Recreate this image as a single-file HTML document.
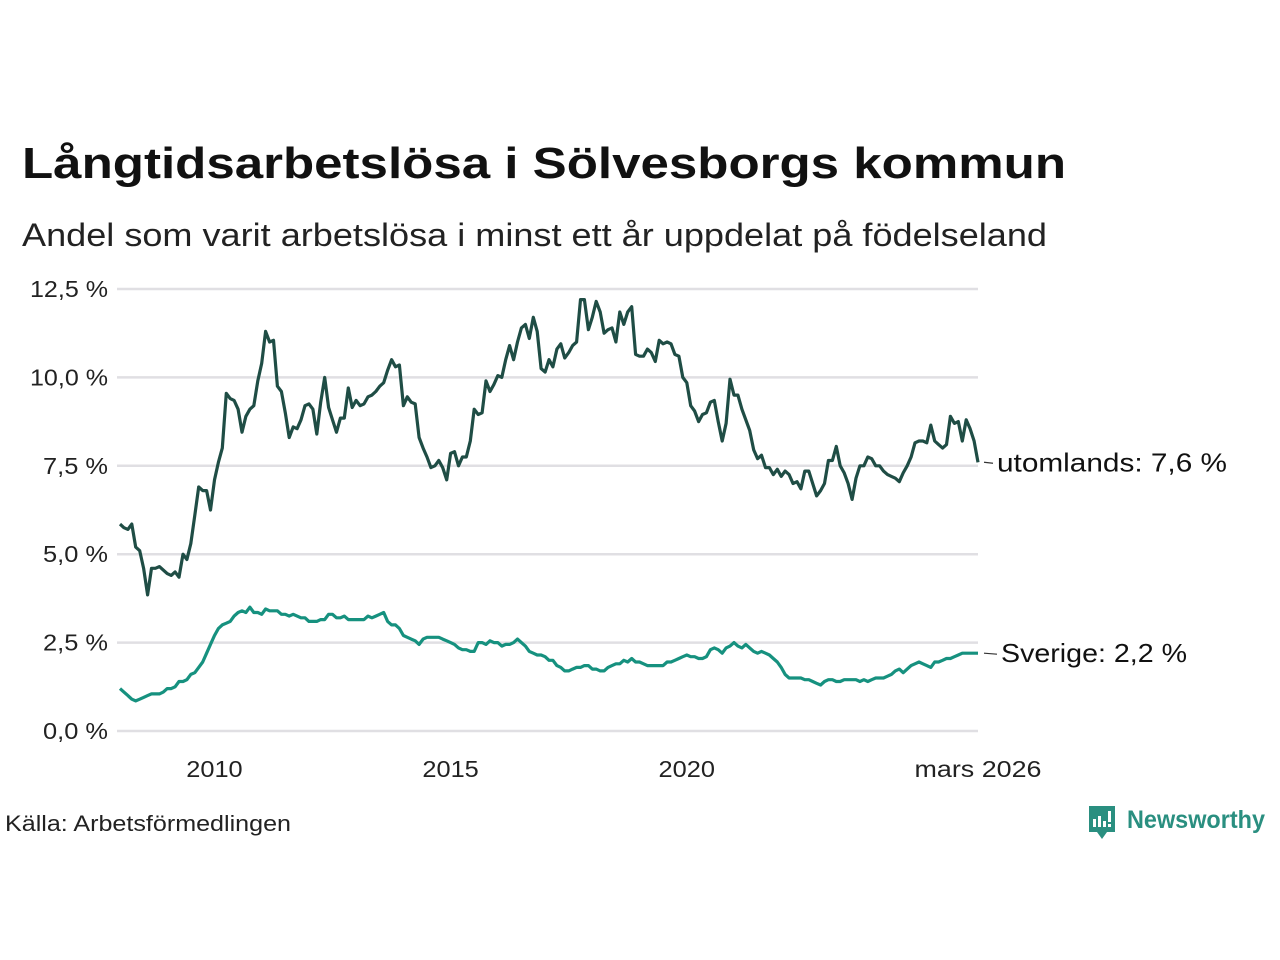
<!DOCTYPE html>
<html><head><meta charset="utf-8"><style>
html,body{margin:0;padding:0;background:#fff;width:1280px;height:960px;overflow:hidden}
svg text{font-family:"Liberation Sans",sans-serif}
</style></head><body>
<svg id="chart" width="1280" height="960" viewBox="0 0 1280 960" xmlns="http://www.w3.org/2000/svg">
<text x="22" y="178" font-size="44" font-weight="bold" fill="#111" textLength="1044" lengthAdjust="spacingAndGlyphs">Långtidsarbetslösa i Sölvesborgs kommun</text>
<text x="22" y="246" font-size="32" fill="#222" textLength="1025" lengthAdjust="spacingAndGlyphs">Andel som varit arbetslösa i minst ett år uppdelat på födelseland</text>
<g id="grid"></g>
<g id="yticks"></g>
<g id="xticks"></g>
<g id="lines"></g>
<text x="5" y="831" font-size="22" fill="#222" textLength="286" lengthAdjust="spacingAndGlyphs">Källa: Arbetsförmedlingen</text>
<g>
<path d="M1089 806 h26 v26 h-8 l-5 7 l-5 -7 h-8 z" fill="#2a8f80"/>
<rect x="1093" y="819" width="3" height="8" fill="#fff"/><rect x="1098" y="816" width="3" height="11" fill="#fff"/><rect x="1103" y="821" width="3" height="6" fill="#fff"/><rect x="1108" y="811" width="3" height="11" fill="#fff"/><rect x="1108" y="824" width="3" height="3" fill="#fff"/>
<text x="1127" y="828" font-size="25" font-weight="bold" fill="#2a8f80" textLength="138" lengthAdjust="spacingAndGlyphs">Newsworthy</text>
</g>
</svg>
<script>
const yTicks=[0,2.5,5,7.5,10,12.5];
const yTickLabels=["0,0 %","2,5 %","5,0 %","7,5 %","10,0 %","12,5 %"];
const xTickYears=[2010,2015,2020,2026.1667];
const xTickLabels=["2010","2015","2020","mars 2026"];
const startYear=2008;
const utomlands=[5.85,5.75,5.7,5.85,5.2,5.1,4.6,3.85,4.6,4.6,4.65,4.55,
4.45,4.4,4.5,4.35,5.0,4.85,5.3,6.1,6.9,6.8,6.8,6.25,
7.1,7.6,8.0,9.55,9.4,9.35,9.1,8.45,8.9,9.1,9.2,9.9,
10.4,11.3,11.0,11.05,9.75,9.6,9.0,8.3,8.6,8.55,8.8,9.2,
9.25,9.1,8.4,9.3,10.0,9.15,8.8,8.45,8.85,8.85,9.7,9.15,
9.35,9.2,9.25,9.45,9.5,9.6,9.75,9.85,10.2,10.5,10.3,10.35,
9.2,9.45,9.3,9.25,8.3,8.0,7.75,7.45,7.5,7.65,7.45,7.1,
7.85,7.9,7.5,7.75,7.75,8.2,9.1,8.95,9.0,9.9,9.6,9.8,
10.05,10.0,10.5,10.9,10.5,11.0,11.4,11.5,11.1,11.7,11.3,10.25,
10.15,10.5,10.3,10.8,10.95,10.55,10.7,10.9,11.0,12.2,12.2,11.35,
11.7,12.15,11.85,11.25,11.35,11.4,11.0,11.85,11.5,11.85,12.0,10.65,
10.6,10.6,10.8,10.7,10.45,11.05,10.95,11.0,10.95,10.65,10.6,10.0,
9.85,9.2,9.05,8.75,8.95,9.0,9.3,9.35,8.75,8.2,8.7,9.95,
9.5,9.5,9.1,8.8,8.5,7.95,7.7,7.8,7.45,7.45,7.25,7.4,
7.2,7.35,7.25,7.0,7.05,6.85,7.35,7.35,7.0,6.65,6.8,7.0,
7.65,7.65,8.05,7.5,7.3,7.0,6.55,7.15,7.5,7.5,7.75,7.7,
7.5,7.5,7.35,7.25,7.2,7.15,7.05,7.3,7.5,7.75,8.15,8.2,
8.2,8.15,8.65,8.2,8.1,8.0,8.1,8.9,8.7,8.75,8.2,8.8,
8.55,8.2,7.6];
const sverige=[1.2,1.1,1.0,0.9,0.85,0.9,0.95,1.0,1.05,1.05,1.05,1.1,
1.2,1.2,1.25,1.4,1.4,1.45,1.6,1.65,1.8,1.95,2.2,2.45,
2.7,2.9,3.0,3.05,3.1,3.25,3.35,3.4,3.35,3.5,3.35,3.35,
3.3,3.45,3.4,3.4,3.4,3.3,3.3,3.25,3.3,3.25,3.2,3.2,
3.1,3.1,3.1,3.15,3.15,3.3,3.3,3.2,3.2,3.25,3.15,3.15,
3.15,3.15,3.15,3.25,3.2,3.25,3.3,3.35,3.1,3.0,3.0,2.9,
2.7,2.65,2.6,2.55,2.45,2.6,2.65,2.65,2.65,2.65,2.6,2.55,
2.5,2.45,2.35,2.3,2.3,2.25,2.25,2.5,2.5,2.45,2.55,2.5,
2.5,2.4,2.45,2.45,2.5,2.6,2.5,2.4,2.25,2.2,2.15,2.15,
2.1,2.0,2.0,1.85,1.8,1.7,1.7,1.75,1.8,1.8,1.85,1.85,
1.75,1.75,1.7,1.7,1.8,1.85,1.9,1.9,2.0,1.95,2.05,1.95,
1.95,1.9,1.85,1.85,1.85,1.85,1.85,1.95,1.95,2.0,2.05,2.1,
2.15,2.1,2.1,2.05,2.05,2.1,2.3,2.35,2.3,2.2,2.35,2.4,
2.5,2.4,2.35,2.45,2.35,2.25,2.2,2.25,2.2,2.15,2.05,1.95,
1.8,1.6,1.5,1.5,1.5,1.5,1.45,1.45,1.4,1.35,1.3,1.4,
1.45,1.45,1.4,1.4,1.45,1.45,1.45,1.45,1.4,1.45,1.4,1.45,
1.5,1.5,1.5,1.55,1.6,1.7,1.75,1.65,1.75,1.85,1.9,1.95,
1.9,1.85,1.8,1.95,1.95,2.0,2.05,2.05,2.1,2.15,2.2,2.2,
2.2,2.2,2.2];
const NS="http://www.w3.org/2000/svg";
const X0=120,X1=978,Y0=731,Y1=289;
const lastYear=startYear+(utomlands.length-1)/12;
function xs(yr){return X0+(yr-startYear)/(lastYear-startYear)*(X1-X0);}
function ys(v){return Y0-(v/12.5)*(Y0-Y1);}
function mk(tag,attrs,parent){const e=document.createElementNS(NS,tag);for(const k in attrs)e.setAttribute(k,attrs[k]);parent.appendChild(e);return e;}
const grid=document.getElementById('grid'),yt=document.getElementById('yticks'),xt=document.getElementById('xticks'),lines=document.getElementById('lines');
yTicks.forEach((v,i)=>{
 const l=mk('line',{x1:117,x2:978,y1:ys(v),y2:ys(v),stroke:'#e0dfe3','stroke-width':2.5},grid);
 
 
 const t=mk('text',{x:108,y:ys(v)+8,'text-anchor':'end','font-size':23,fill:'#222'},yt);
 t.textContent=yTickLabels[i];
 t.setAttribute('textLength',yTickLabels[i].length*13);
 t.setAttribute('lengthAdjust','spacingAndGlyphs');
 
 
});
xTickYears.forEach((yr,i)=>{
 const t=mk('text',{x:xs(yr),y:777,'text-anchor':'middle','font-size':23,fill:'#222'},xt);
 t.textContent=xTickLabels[i];
 t.setAttribute('textLength',xTickLabels[i].length*14.1);
 t.setAttribute('lengthAdjust','spacingAndGlyphs');
 
 
});
function drawSeries(arr,color,name,label,lx,lw){
 const d=arr.map((v,i)=>(i?'L':'M')+xs(startYear+i/12).toFixed(1)+' '+ys(v).toFixed(1)).join(' ');
 const p=mk('path',{d:d,fill:'none',stroke:color,'stroke-width':3.2,'stroke-linejoin':'round'},lines);
 
 
 const last=arr[arr.length-1],y=ys(last);
 const tk=mk('line',{x1:984,x2:lx-4,y1:y,y2:y+1,stroke:'#333','stroke-width':1.2},lines);
 
 
 const t=mk('text',{x:lx,y:y+9,'font-size':26,fill:'#111',textLength:lw,lengthAdjust:'spacingAndGlyphs'},lines);
 t.textContent=label+': '+last.toFixed(1).replace('.',',')+' %';
 
 
}
drawSeries(utomlands,'#1f4d45','utomlands','utomlands',997,230);
drawSeries(sverige,'#16917f','sverige','Sverige',1001,186);
</script>
</body></html>
